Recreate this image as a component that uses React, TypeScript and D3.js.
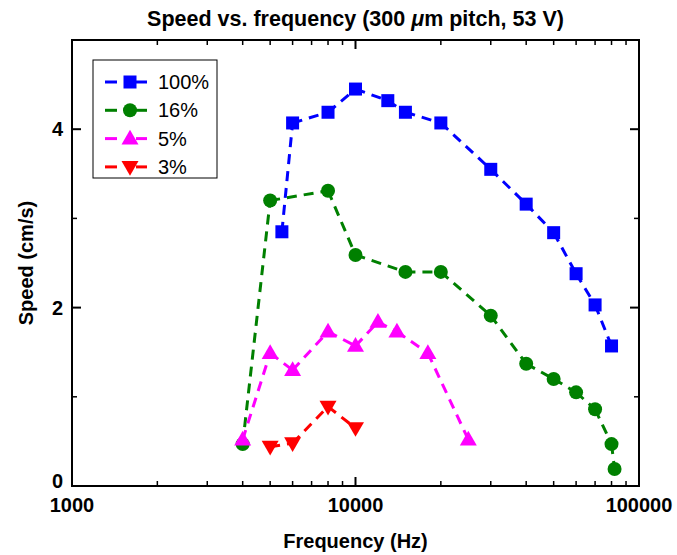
import React from "react";
import * as d3 from "d3";

const freq100 = [5500, 6000, 8000, 10000, 13000, 15000, 20000, 30000, 40000, 50000, 60000, 70000, 80000];
const speed100 = [2.85, 4.07, 4.19, 4.45, 4.32, 4.19, 4.07, 3.55, 3.16, 2.84, 2.38, 2.03, 1.57];
const freq16 = [4000, 5000, 8000, 10000, 15000, 20000, 30000, 40000, 50000, 60000, 70000, 80000, 82000];
const speed16 = [0.47, 3.2, 3.31, 2.59, 2.4, 2.4, 1.91, 1.37, 1.2, 1.05, 0.86, 0.47, 0.19];
const freq5 = [4000, 5000, 6000, 8000, 10000, 12000, 14000, 18000, 25000];
const speed5 = [0.52, 1.49, 1.3, 1.73, 1.57, 1.84, 1.73, 1.49, 0.52];
const freq3 = [5000, 6000, 8000, 10000];
const speed3 = [0.44, 0.48, 0.89, 0.65];

const seriesNames = ["100%", "16%", "5%", "3%"];
const xTickLabels = ["1000", "10000", "100000"];
const yTickLabels = ["0", "2", "4"];

const W = 677, H = 555;
const left = 72, right = 639, top = 40, bottom = 486;
const FONT = "'Liberation Sans', Arial, Helvetica, sans-serif";

const x = d3.scaleLog().domain([1000, 100000]).range([left, right]);
const y = d3.scaleLinear().domain([0, 5]).range([bottom, top]);

type Shape = "square" | "circle" | "up" | "down";

function Marker({ cx, cy, shape, color }: { cx: number; cy: number; shape: Shape; color: string }) {
  if (shape === "square") return <rect x={cx - 6.5} y={cy - 6.5} width={13} height={13} fill={color} />;
  if (shape === "circle") return <circle cx={cx} cy={cy} r={7} fill={color} />;
  const s = 17, h = s * Math.sqrt(3) / 2;
  if (shape === "up") {
    const p = `M${cx},${cy - h * 0.6}L${cx + s / 2},${cy + h * 0.4}L${cx - s / 2},${cy + h * 0.4}Z`;
    return <path d={p} fill={color} />;
  }
  const p = `M${cx},${cy + h * 0.6}L${cx + s / 2},${cy - h * 0.4}L${cx - s / 2},${cy - h * 0.4}Z`;
  return <path d={p} fill={color} />;
}

const series = [
  { name: seriesNames[0], xs: freq100, ys: speed100, color: "#0000ff", shape: "square" as Shape },
  { name: seriesNames[1], xs: freq16, ys: speed16, color: "#008000", shape: "circle" as Shape },
  { name: seriesNames[2], xs: freq5, ys: speed5, color: "#ff00ff", shape: "up" as Shape },
  { name: seriesNames[3], xs: freq3, ys: speed3, color: "#ff0000", shape: "down" as Shape },
];

export default function App() {
  const majorX = [1000, 10000, 100000];
  const minorX: number[] = [];
  [1000, 10000].forEach((d) => { for (let k = 2; k <= 9; k++) minorX.push(d * k); });
  const majorY = [0, 2, 4];
  const minorY = [1, 3];
  const line = d3.line<[number, number]>().x((d) => x(d[0])).y((d) => y(d[1]));

  return (
    <svg width={W} height={H} style={{ position: "absolute", left: 0, top: 0, background: "#fff" }} fontFamily={FONT}>
      <rect width={W} height={H} fill="#fff" />
      {/* title */}
      <text x={(left + right) / 2} y={26} textAnchor="middle" fontSize={21.5} fontWeight="bold">
        Speed vs. frequency (300 <tspan fontStyle="italic">μ</tspan>m pitch, 53 V)
      </text>
      {/* series */}
      {series.map((s) => (
        <g key={s.name}>
          {s.xs.slice(1).map((xv, i) => (
            <path
              key={i}
              d={line([[s.xs[i], s.ys[i]], [xv, s.ys[i + 1]]]) || ""}
              stroke={s.color}
              strokeWidth={3}
              strokeDasharray="10,7"
              fill="none"
            />
          ))}
          {s.xs.map((xv, i) => (
            <Marker key={i} cx={x(xv)} cy={y(s.ys[i])} shape={s.shape} color={s.color} />
          ))}
        </g>
      ))}
      {/* frame */}
      <rect x={left} y={top} width={right - left} height={bottom - top} fill="none" stroke="#000" strokeWidth={2} />
      {/* x ticks */}
      {majorX.map((v) => (
        <g key={"mx" + v}>
          <line x1={x(v)} x2={x(v)} y1={bottom} y2={bottom - 9} stroke="#000" strokeWidth={2} />
          <line x1={x(v)} x2={x(v)} y1={top} y2={top + 9} stroke="#000" strokeWidth={2} />
        </g>
      ))}
      {minorX.map((v) => (
        <g key={"nx" + v}>
          <line x1={x(v)} x2={x(v)} y1={bottom} y2={bottom - 5} stroke="#000" strokeWidth={1.5} />
          <line x1={x(v)} x2={x(v)} y1={top} y2={top + 5} stroke="#000" strokeWidth={1.5} />
        </g>
      ))}
      {majorX.map((v, i) => (
        <text key={"lx" + v} x={x(v)} y={512} textAnchor="middle" fontSize={20} fontWeight="bold">
          {xTickLabels[i]}
        </text>
      ))}
      {/* y ticks */}
      {majorY.map((v) => (
        <g key={"my" + v}>
          <line x1={left} x2={left + 9} y1={y(v)} y2={y(v)} stroke="#000" strokeWidth={2} />
          <line x1={right} x2={right - 9} y1={y(v)} y2={y(v)} stroke="#000" strokeWidth={2} />
        </g>
      ))}
      {minorY.map((v) => (
        <g key={"ny" + v}>
          <line x1={left} x2={left + 5} y1={y(v)} y2={y(v)} stroke="#000" strokeWidth={1.5} />
          <line x1={right} x2={right - 5} y1={y(v)} y2={y(v)} stroke="#000" strokeWidth={1.5} />
        </g>
      ))}
      {majorY.map((v, i) => (
        <text key={"ly" + v} x={63} y={v === 0 ? y(v) + 2 : y(v) + 7} textAnchor="end" fontSize={20} fontWeight="bold">
          {yTickLabels[i]}
        </text>
      ))}
      {/* axis titles */}
      <text x={(left + right) / 2} y={548} textAnchor="middle" fontSize={20} fontWeight="bold">
        Frequency (Hz)
      </text>
      <text transform={`translate(33,${(top + bottom) / 2}) rotate(-90)`} textAnchor="middle" fontSize={20} fontWeight="bold">
        Speed (cm/s)
      </text>
      {/* legend */}
      <rect x={93} y={60} width={124} height={118} fill="#fff" stroke="#000" strokeWidth={1} />
      {series.map((s, i) => {
        const ly = 82 + i * 28.3;
        return (
          <g key={"lg" + s.name}>
            <line x1={105} x2={117} y1={ly} y2={ly} stroke={s.color} strokeWidth={3} />
            <line x1={136} x2={147} y1={ly} y2={ly} stroke={s.color} strokeWidth={3} />
            <Marker cx={130} cy={ly} shape={s.shape} color={s.color} />
            <text x={158} y={ly + 7} fontSize={20}>{s.name}</text>
          </g>
        );
      })}
    </svg>
  );
}
